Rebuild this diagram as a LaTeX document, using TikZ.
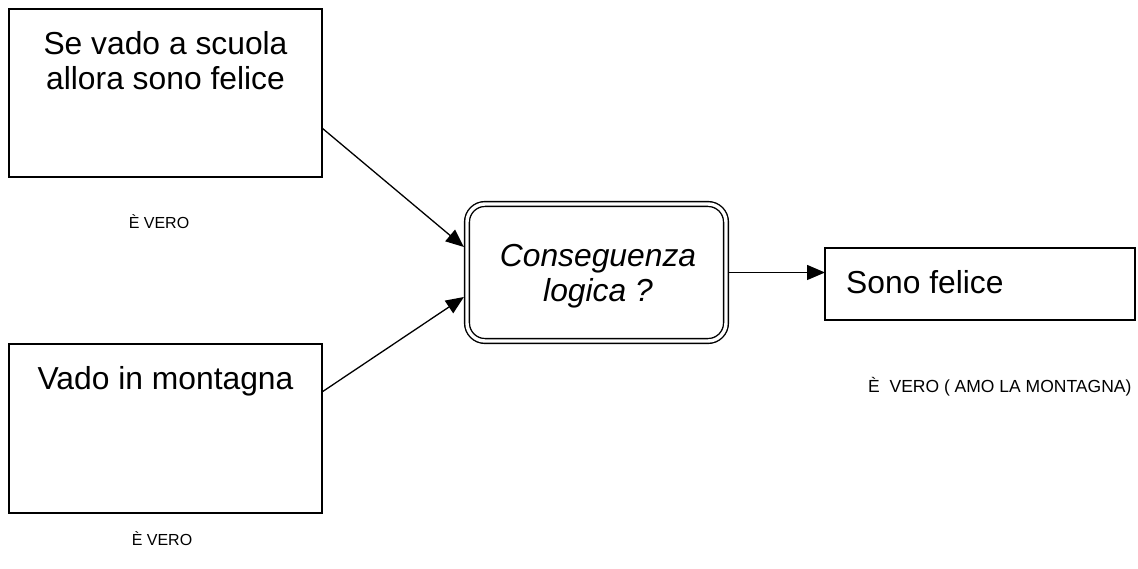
\documentclass[tikz,border=0pt]{standalone}
\usepackage{fontspec}
\setmainfont{Liberation Sans}
\usetikzlibrary{arrows.meta}
\begin{document}
\begin{tikzpicture}[x=1pt,y=-1pt,
  plainbox/.style={draw=black, line width=1.4pt, rectangle, inner sep=0pt, outer sep=0pt},
  dblbox/.style={draw=black, line width=1.4pt, double=white, double distance=3.4pt,
    rectangle, rounded corners=18pt, inner sep=0pt, outer sep=3.1pt},
  bigtext/.style={font=\fontsize{31.8}{35}\selectfont, inner sep=0pt, anchor=base},
  smalltext/.style={font=\fontsize{16}{19}\selectfont, inner sep=0pt, anchor=base},
  arr/.style={line width=1.3pt, -{Triangle[length=18pt,width=15pt]}}]
\useasboundingbox (0,0) rectangle (1138,569);
\fill[white] (0,0) rectangle (1138,569);

% boxes
\node[plainbox, minimum width=313pt, minimum height=168pt] (b1) at (165.5,93) {};
\node[plainbox, minimum width=313pt, minimum height=169pt] (b2) at (165.5,428.5) {};
\node[dblbox, minimum width=259pt, minimum height=137pt] (c) at (596.5,272.5) {};
\node[plainbox, minimum width=310pt, minimum height=72pt] (sf) at (980,284) {};

% texts
\node[bigtext] (t1a) at (165.5,55) {Se vado a scuola};
\node[bigtext] (t1b) at (165.5,90) {allora sono felice};
\node[bigtext] (t2) at (165.5,389) {Vado in montagna};
\node[bigtext, font=\fontsize{31.8}{35}\selectfont\itshape] (tc1) at (598,267) {Conseguenza};
\node[bigtext, font=\fontsize{31.8}{35}\selectfont\itshape] (tc2) at (598,302) {logica ?};
\node[bigtext, anchor=base west] (tsf) at (846,294) {Sono felice};

\node[smalltext] (v1) at (159,229) {È VERO};
\node[smalltext] (v2) at (162,545) {È VERO};
\node[smalltext, font=\fontsize{17.5}{20}\selectfont, anchor=base west] (v3) at (868,392) {È\ \ VERO ( AMO LA MONTAGNA)};

% connectors
\draw[arr] ([yshift=-35pt]b1.east) -- ([yshift=25.5pt]c.west);
\draw[arr] ([yshift=36.5pt]b2.east) -- ([yshift=-24.5pt]c.west);
\draw[arr] (c.east) -- (c.east -| sf.west);
\end{tikzpicture}
\end{document}
